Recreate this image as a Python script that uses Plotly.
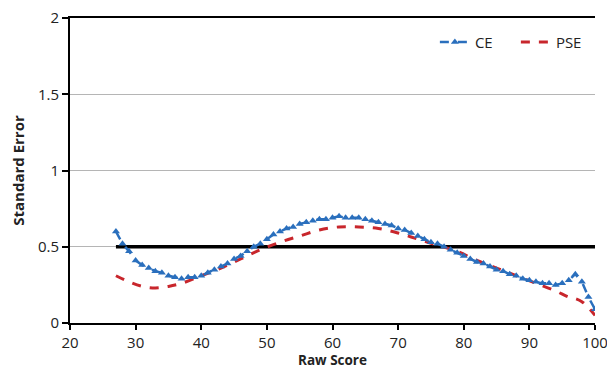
import plotly.graph_objects as go

ce_x = list(range(27, 101))
ce_y = [0.60, 0.52, 0.47, 0.41, 0.38, 0.36, 0.34, 0.33, 0.31, 0.30,
        0.29, 0.30, 0.30, 0.31, 0.33, 0.35, 0.37, 0.39, 0.42, 0.44,
        0.47, 0.50, 0.52, 0.55, 0.58, 0.60, 0.62, 0.63, 0.65, 0.66,
        0.67, 0.68, 0.68, 0.69, 0.70, 0.69, 0.69, 0.69, 0.68, 0.67,
        0.66, 0.65, 0.64, 0.62, 0.61, 0.59, 0.57, 0.55, 0.53, 0.52,
        0.50, 0.48, 0.46, 0.44, 0.42, 0.40, 0.39, 0.37, 0.35, 0.34,
        0.32, 0.31, 0.29, 0.28, 0.27, 0.26, 0.26, 0.25, 0.26, 0.28,
        0.32, 0.27, 0.17, 0.09]

pse_x = [27, 29, 31, 33, 35, 37, 40, 43, 46, 49, 52, 55, 58, 61, 64, 67,
         70, 73, 76, 79, 82, 85, 88, 91, 94, 96, 97, 98, 99, 100]
pse_y = [0.31, 0.27, 0.24, 0.23, 0.24, 0.26, 0.31, 0.36, 0.42, 0.48, 0.53,
         0.57, 0.61, 0.63, 0.63, 0.62, 0.59, 0.55, 0.51, 0.47, 0.41, 0.36,
         0.31, 0.26, 0.21, 0.17, 0.16, 0.14, 0.10, 0.05]

ref_x = [27, 100]
ref_y = [0.5, 0.5]

x_ticks = [20, 30, 40, 50, 60, 70, 80, 90, 100]
y_ticks = [0, 0.5, 1, 1.5, 2]
y_labels = ["0", "0.5", "1", "1.5", "2"]

BLUE = "#2a6fbd"
RED = "#c8262c"
FONT = "Open Sans"

fig = go.Figure()
fig.add_trace(go.Scatter(x=ref_x, y=ref_y, mode="lines",
                         line=dict(color="black", width=3.5),
                         showlegend=False, hoverinfo="skip"))
fig.add_trace(go.Scatter(x=pse_x, y=pse_y, mode="lines", name="PSE",
                         line=dict(color=RED, width=3, dash="dash", shape="spline")))
fig.add_trace(go.Scatter(x=ce_x, y=ce_y, mode="lines+markers", name="CE",
                         line=dict(color=BLUE, width=2.5, dash="dash"),
                         marker=dict(symbol="triangle-up", size=7, color=BLUE)))

fig.update_layout(
    width=607, height=369,
    margin=dict(l=70, r=12, t=18, b=46, autoexpand=False),
    paper_bgcolor="white", plot_bgcolor="white",
    font=dict(family=FONT, color="#222222", size=15),
    legend=dict(orientation="h", x=0.695, y=0.975, xanchor="left", yanchor="top",
                traceorder="reversed", font=dict(size=15, family=FONT),
                entrywidth=36, entrywidthmode="pixels",
                bgcolor="rgba(0,0,0,0)"),
    showlegend=True,
    annotations=[dict(text="<b>Raw Score</b>", xref="paper", yref="paper",
                      x=0.5, y=-(359.5 - 323) / 305, xanchor="center", yanchor="middle",
                      showarrow=False, font=dict(size=13.5, family=FONT, color="#222222"))],
)
fig.update_xaxes(range=[20, 100], tickvals=x_ticks, showgrid=False, automargin=False,
                 showline=True, linecolor="black", linewidth=2, mirror=True,
                 ticks="outside", ticklen=5, tickwidth=2, tickcolor="black",
                 zeroline=False, ticklabeloverflow="allow",
                 tickfont=dict(size=15, family=FONT))
fig.update_yaxes(range=[0, 2], tickvals=y_ticks, ticktext=y_labels, automargin=False,
                 showgrid=True, gridcolor="#b5b5b5", gridwidth=1,
                 showline=True, linecolor="black", linewidth=2,
                 ticks="outside", ticklen=6, tickwidth=2, tickcolor="black",
                 zeroline=False,
                 title=dict(text="<b>Standard Error</b>", font=dict(size=15, family=FONT), standoff=10),
                 tickfont=dict(size=15, family=FONT))

fig.write_html("out.html")
